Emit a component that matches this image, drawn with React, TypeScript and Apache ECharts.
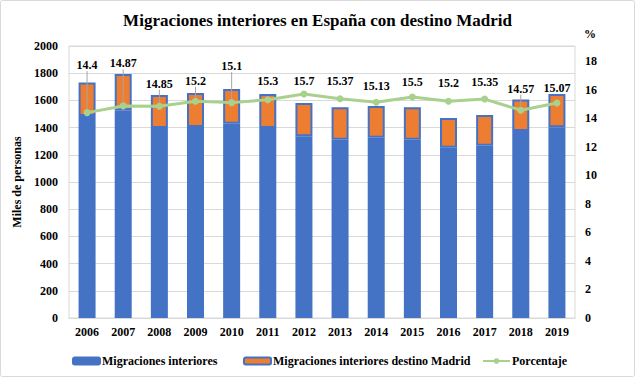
import React, { useEffect, useRef } from "react";
import * as echarts from "echarts";

// ---- data ----
const years = ["2006", "2007", "2008", "2009", "2010", "2011", "2012", "2013", "2014", "2015", "2016", "2017", "2018", "2019"];
const migracionesInteriores = [1732, 1794, 1640, 1654, 1684, 1647, 1581, 1549, 1559, 1549, 1471, 1493, 1607, 1647];
const destinoMadrid = [247, 267, 243, 250, 255, 250, 244, 238, 234, 239, 220, 226, 232, 245];
const porcentaje = [14.4, 14.87, 14.85, 15.2, 15.1, 15.3, 15.7, 15.37, 15.13, 15.5, 15.2, 15.35, 14.57, 15.07];
const leftTickLabels = [0, 200, 400, 600, 800, 1000, 1200, 1400, 1600, 1800, 2000];
const seriesNames = ["Migraciones interiores", "Migraciones interiores destino Madrid", "Porcentaje"];

// ---- label placement tweaks (style, not data) ----
const labelRaise = [-33, -28, -8, -6, -22, -4, 1, -3, -2, 0, -4, -3, -7, -1];
const hasLeader = [true, true, true, true, true, false, false, false, false, false, false, false, true, false];
const legendLefts = [67, 238, 477];

const BLUE = "#4472C4";
const ORANGE = "#ED7D31";
const GREEN = "#A9D18E";
const GRID = "#D9D9D9";
const FONT = "Liberation Serif";

export default function App() {
  const ref = useRef<HTMLDivElement>(null);

  useEffect(() => {
    if (!ref.current) return;
    const chart = echarts.init(ref.current, null, { renderer: "svg" });
    const base = migracionesInteriores.map((t, i) => t - destinoMadrid[i]);
    const axisLabelStyle = { color: "#000", fontFamily: FONT, fontWeight: "bold" as const, fontSize: 12 };

    chart.setOption({
      animation: false,
      backgroundColor: "#fff",
      textStyle: { fontFamily: FONT },
      title: {
        text: "Migraciones interiores en España con destino Madrid",
        left: "center",
        top: 7,
        textStyle: { fontFamily: FONT, fontWeight: "bold", fontSize: 17, color: "#000" },
      },
      graphic: [
        {
          type: "rect",
          shape: { x: 0.5, y: 0.5, width: 634, height: 376, r: 2 },
          style: { fill: "none", stroke: GRID, lineWidth: 1 },
          silent: true,
        },
      ],
      legend: seriesNames.map((n, i) => ({
        top: 350,
        left: legendLefts[i],
        itemWidth: 27,
        itemHeight: 7,
        itemGap: 0,
        textStyle: { fontFamily: FONT, fontWeight: "bold", fontSize: 12, color: "#000", padding: [0, 0, 0, -3] },
        data: [n],
      })),
      grid: {
        left: 69,
        right: 60,
        top: 46,
        bottom: 59,
        show: true,
        borderColor: GRID,
        borderWidth: 1,
      },
      xAxis: {
        type: "category",
        data: years,
        axisLine: { lineStyle: { color: GRID } },
        axisTick: { show: false },
        axisLabel: { ...axisLabelStyle, margin: 8 },
      },
      yAxis: [
        {
          type: "value",
          min: leftTickLabels[0],
          max: leftTickLabels[leftTickLabels.length - 1],
          interval: leftTickLabels[1] - leftTickLabels[0],
          name: "Miles de personas",
          nameLocation: "middle",
          nameGap: 44,
          nameTextStyle: { fontFamily: FONT, fontWeight: "bold", fontSize: 12, color: "#000" },
          axisLine: { show: false },
          axisTick: { show: false },
          axisLabel: { ...axisLabelStyle, margin: 11, formatter: (v: number) => String(v) },
          splitLine: { lineStyle: { color: GRID } },
        },
        {
          type: "value",
          min: 0,
          max: 19.07,
          interval: 2,
          name: "%",
          nameLocation: "end",
          nameGap: 6,
          nameTextStyle: { fontFamily: FONT, fontWeight: "bold", fontSize: 12, color: "#000", align: "left", padding: [0, 0, 0, 9] },
          axisLine: { show: false },
          axisTick: { show: false },
          axisLabel: { ...axisLabelStyle, margin: 10, showMaxLabel: false, formatter: (v: number) => String(v) },
          splitLine: { show: false },
        },
      ],
      series: [
        {
          name: seriesNames[0],
          type: "bar",
          stack: "total",
          barWidth: 17,
          data: base,
          itemStyle: { color: BLUE, borderColor: BLUE, borderWidth: 2 },
        },
        {
          name: seriesNames[1],
          type: "bar",
          stack: "total",
          barWidth: 17,
          data: destinoMadrid,
          itemStyle: { color: ORANGE, borderColor: BLUE, borderWidth: 2 },
        },
        {
          name: seriesNames[2],
          type: "line",
          yAxisIndex: 1,
          symbol: "circle",
          symbolSize: 7,
          lineStyle: { color: GREEN, width: 3 },
          itemStyle: { color: GREEN },
          data: porcentaje.map((v, i) => ({
            value: v,
            labelLine: { show: hasLeader[i] },
          })),
          label: {
            show: true,
            position: "top",
            distance: 5,
            fontFamily: FONT,
            fontWeight: "bold",
            fontSize: 12,
            color: "#000",
          },
          labelLine: { show: false, lineStyle: { color: "#A6A6A6", width: 1 } },
          labelLayout: (params: any) => ({ dy: labelRaise[params.dataIndex] }),
          z: 5,
        },
      ],
    });

    return () => chart.dispose();
  }, []);

  return (
    <div
      ref={ref}
      style={{ position: "absolute", left: 0, top: 0, width: 635, height: 377 }}
    />
  );
}
